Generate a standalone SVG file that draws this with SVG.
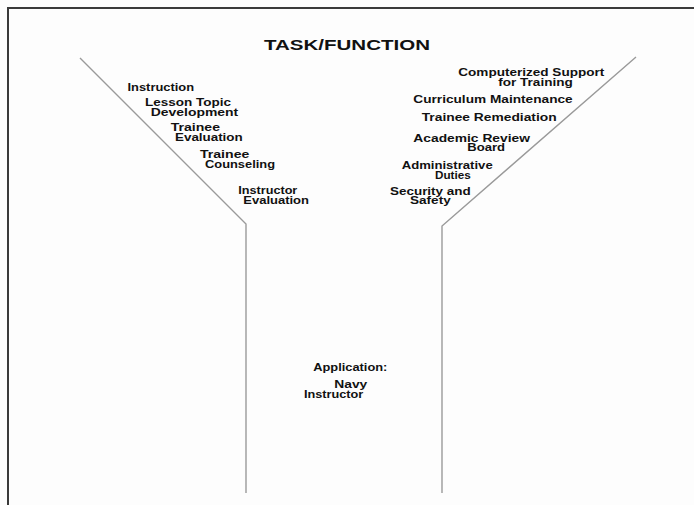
<svg xmlns="http://www.w3.org/2000/svg" width="694" height="505" viewBox="0 0 694 505">
<style>
  .bg { fill: #fdfdfd; }
  .frame { stroke: #3a3a3a; stroke-width: 2; fill: none; }
  .funnel { stroke: #9a9a9a; stroke-width: 1.4; fill: none; }
  text { font-family: "Liberation Sans", Arial, Helvetica, sans-serif; font-weight: bold; fill: #111; }
  .title { font-size: 14px; }
  .lbl { font-size: 10.2px; }
</style>
<rect class="bg" x="0" y="0" width="694" height="505"/>
<g id="frame">
  <path class="frame" d="M8,505 V8 H694"/>
</g>
<g id="connectors">
  <path class="funnel" d="M80,58 L246,224 V493"/>
  <path class="funnel" d="M636,57 L442,226 V493"/>
</g>
<g id="title">
  <text class="title" x="264" y="49.5" textLength="166" lengthAdjust="spacingAndGlyphs">TASK/FUNCTION</text>
</g>
<g id="instruction">
  <text class="lbl" x="127.5" y="90.7" textLength="66.5" lengthAdjust="spacingAndGlyphs">Instruction</text>
</g>
<g id="lesson-topic-development">
  <text class="lbl" x="145" y="106" textLength="86" lengthAdjust="spacingAndGlyphs">Lesson Topic</text>
  <text class="lbl" x="150.7" y="115.5" textLength="87.6" lengthAdjust="spacingAndGlyphs">Development</text>
</g>
<g id="trainee-evaluation">
  <text class="lbl" x="170.7" y="131.3" textLength="49.3" lengthAdjust="spacingAndGlyphs">Trainee</text>
  <text class="lbl" x="175" y="141.2" textLength="67.7" lengthAdjust="spacingAndGlyphs">Evaluation</text>
</g>
<g id="trainee-counseling">
  <text class="lbl" x="200" y="158.3" textLength="49.3" lengthAdjust="spacingAndGlyphs">Trainee</text>
  <text class="lbl" x="205" y="168.2" textLength="70" lengthAdjust="spacingAndGlyphs">Counseling</text>
</g>
<g id="instructor-evaluation">
  <text class="lbl" x="238.3" y="194" textLength="59" lengthAdjust="spacingAndGlyphs">Instructor</text>
  <text class="lbl" x="243.3" y="203.5" textLength="65.7" lengthAdjust="spacingAndGlyphs">Evaluation</text>
</g>
<g id="computerized-support">
  <text class="lbl" x="458.3" y="76" textLength="146" lengthAdjust="spacingAndGlyphs">Computerized Support</text>
  <text class="lbl" x="498.3" y="86" textLength="74.4" lengthAdjust="spacingAndGlyphs">for Training</text>
</g>
<g id="curriculum-maintenance">
  <text class="lbl" x="413.3" y="103.3" textLength="159.4" lengthAdjust="spacingAndGlyphs">Curriculum Maintenance</text>
</g>
<g id="trainee-remediation">
  <text class="lbl" x="421.7" y="121" textLength="135" lengthAdjust="spacingAndGlyphs">Trainee Remediation</text>
</g>
<g id="academic-review-board">
  <text class="lbl" x="413.3" y="141.5" textLength="116.7" lengthAdjust="spacingAndGlyphs">Academic Review</text>
  <text class="lbl" x="467.3" y="151.2" textLength="37.7" lengthAdjust="spacingAndGlyphs">Board</text>
</g>
<g id="administrative-duties">
  <text class="lbl" x="401.7" y="169" textLength="91" lengthAdjust="spacingAndGlyphs">Administrative</text>
  <text class="lbl" x="435" y="178.7" textLength="35.7" lengthAdjust="spacingAndGlyphs">Duties</text>
</g>
<g id="security-safety">
  <text class="lbl" x="390" y="194.8" textLength="80.7" lengthAdjust="spacingAndGlyphs">Security and</text>
  <text class="lbl" x="410" y="204.3" textLength="40.7" lengthAdjust="spacingAndGlyphs">Safety</text>
</g>
<g id="application">
  <text class="lbl" x="313.3" y="371" textLength="74" lengthAdjust="spacingAndGlyphs">Application:</text>
  <text class="lbl" x="334.3" y="387.5" textLength="33" lengthAdjust="spacingAndGlyphs">Navy</text>
  <text class="lbl" x="304" y="397.8" textLength="59.3" lengthAdjust="spacingAndGlyphs">Instructor</text>
</g>
</svg>
